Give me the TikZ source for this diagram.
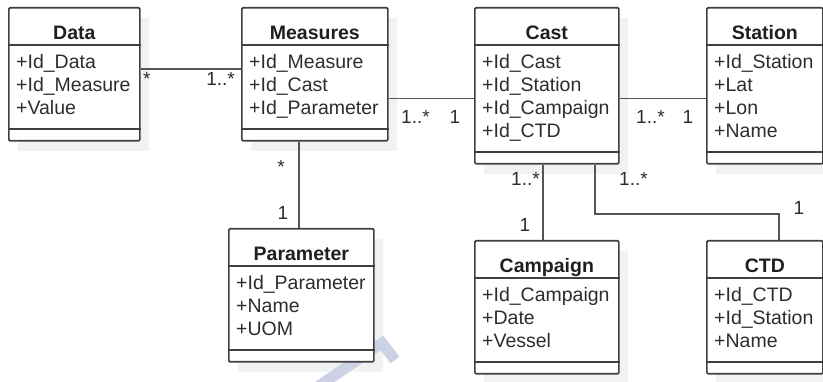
\documentclass[tikz,border=0pt]{standalone}
\usepackage{fontspec}
\setmainfont{Liberation Sans}
\usetikzlibrary{calc}

\definecolor{boxc}{RGB}{64,64,64}
\definecolor{linec}{RGB}{85,85,85}
\definecolor{txtc}{RGB}{45,45,45}
\definecolor{shadc}{RGB}{242,242,242}
\definecolor{markc}{RGB}{204,209,230}

\pgfdeclarelayer{shadows}
\pgfdeclarelayer{marks}
\pgfsetlayers{shadows,marks,main}

\tikzset{
  classbox/.style={draw=boxc, line width=1.7pt, fill=white, rounded corners=1.2pt,
                   inner sep=0pt, anchor=north west},
  divider/.style={draw=boxc, line width=1.7pt},
  link/.style={draw=linec, line width=1.6pt},
  classtitle/.style={font=\fontsize{19.5}{23}\selectfont\bfseries, text=black!88,
                     anchor=base, inner sep=0pt},
  attr/.style={font=\fontsize{19.5}{23}\selectfont, text=txtc, anchor=base west, inner sep=0pt},
  mult/.style={font=\fontsize{19}{23}\selectfont, text=txtc, inner sep=0pt},
  boxshadow/.style={fill=shadc},
}

% UML class: name, x, y, width, height, title, attribute list
\newcommand\umlclass[7]{%
  \begin{pgfonlayer}{shadows}
    \fill[boxshadow] (#2+10,#3+11) rectangle ++(#4,#5);
  \end{pgfonlayer}
  \node[classbox, minimum width=#4pt, minimum height=#5pt] (#1) at (#2,#3) {};
  \draw[divider] ($(#1.north west)+(0,38)$) -- ($(#1.north east)+(0,38)$);
  \draw[divider] ($(#1.south west)+(0,-13)$) -- ($(#1.south east)+(0,-13)$);
  \node[classtitle] (#1-t) at ($(#1.north)+(0,33)$) {#6};
  \foreach \a [count=\i] in {#7} {
    \node[attr] (#1-a\i) at ($(#1.north west)+(8,62+23*\i-23)$) {\a};
  }
}

\begin{document}
\begin{tikzpicture}[x=1pt, y=-1pt]
  \useasboundingbox (0,0) rectangle (823,382);

  \umlclass{Data}{8}{7}{131}{133}{Data}{+Id\_Data,+Id\_Measure,+Value}
  \umlclass{Measures}{241}{7}{146}{133}{Measures}{+Id\_Measure,+Id\_Cast,+Id\_Parameter}
  \umlclass{Cast}{474}{7}{144}{156}{Cast}{+Id\_Cast,+Id\_Station,+Id\_Campaign,+Id\_CTD}
  \umlclass{Station}{706}{7}{116}{156}{Station}{+Id\_Station,+Lat,+Lon,+Name}
  \umlclass{Parameter}{228}{228}{145}{133}{Parameter}{+Id\_Parameter,+Name,+UOM}
  \umlclass{Campaign}{474}{240}{144}{133}{Campaign}{+Id\_Campaign,+Date,+Vessel}
  \umlclass{CTD}{706}{240}{116}{133}{CTD}{+Id\_CTD,+Id\_Station,+Name}

  % associations
  \draw[link] ($(Data.north east)+(0,62)$) -- ($(Measures.north west)+(0,62)$);
  \draw[link] ($(Measures.north east)+(0,91.5)$) -- ($(Cast.north west)+(0,91.5)$);
  \draw[link] ($(Cast.north east)+(0,91.5)$) -- ($(Station.north west)+(0,91.5)$);
  \draw[link] ($(Measures.south west)+(58,0)$) -- ($(Parameter.north west)+(71,0)$);
  \draw[link] ($(Cast.south west)+(69,0)$) -- ($(Campaign.north west)+(69,0)$);
  \draw[link] ($(Cast.south west)+(121,0)$) |- ($(CTD.north west)+(73,-26)$)
              -- ($(CTD.north west)+(73,0)$);

  % multiplicities
  \node[mult, anchor=base west] (m1) at (143,86) {*};
  \node[mult, anchor=base east] (m2) at (235,86) {1..*};
  \node[mult, anchor=base west] (m3) at (401,124) {1..*};
  \node[mult, anchor=base] (m4) at (455,124) {1};
  \node[mult, anchor=base west] (m5) at (636,124) {1..*};
  \node[mult, anchor=base] (m6) at (688,124) {1};
  \node[mult, anchor=base] (m7) at (281,174) {*};
  \node[mult, anchor=base] (m8) at (283,220) {1};
  \node[mult, anchor=base west] (m9) at (511,186) {1..*};
  \node[mult, anchor=base] (m10) at (525,232) {1};
  \node[mult, anchor=base west] (m11) at (619,186) {1..*};
  \node[mult, anchor=base] (m12) at (799,215) {1};

  % faint chevron mark, partly hidden behind the Parameter box
  \begin{pgfonlayer}{marks}
    \draw[markc, line width=11pt, line join=miter] (316,388) -- (382,343) -- (395,360);
  \end{pgfonlayer}
\end{tikzpicture}
\end{document}
